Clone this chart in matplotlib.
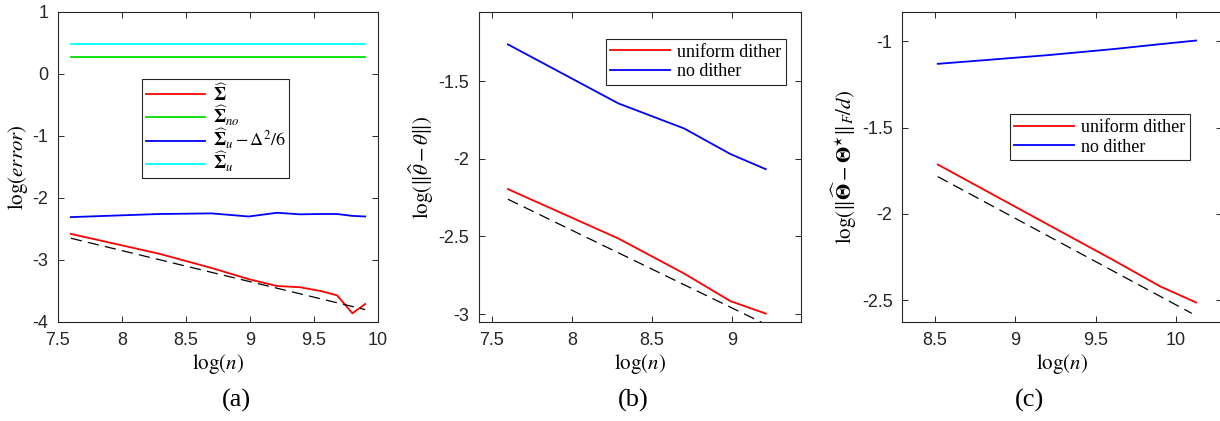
import matplotlib
matplotlib.use("Agg")
import matplotlib.pyplot as plt
import numpy as np
from matplotlib.ticker import FormatStrFormatter

plt.rcParams['font.family'] = ['Liberation Sans', 'DejaVu Sans']
plt.rcParams['mathtext.fontset'] = 'stix'
plt.rcParams['axes.unicode_minus'] = False

# panel (a): covariance error
x_a = [7.60, 8.29, 8.70, 8.99, 9.21, 9.39, 9.55, 9.68, 9.80, 9.90]
sigma_hat = [-2.58, -2.90, -3.13, -3.31, -3.42, -3.44, -3.50, -3.57, -3.86, -3.71]
sigma_no = [0.265] * 10
sigma_u_corr = [-2.31, -2.26, -2.25, -2.30, -2.24, -2.265, -2.26, -2.26, -2.29, -2.30]
sigma_u = [0.475] * 10
ref_a = [-2.65, -3.80]
ref_a_x = [7.60, 9.90]

# panel (b): vector estimation error
x_b = [7.60, 8.29, 8.70, 8.99, 9.21]
theta_dither = [-2.195, -2.513, -2.738, -2.916, -2.996]
theta_nodither = [-1.264, -1.644, -1.805, -1.970, -2.067]
ref_b_x = [7.60, 9.21]
ref_b = [-2.26, -3.065]

# panel (c): matrix estimation error
x_c = [8.517, 9.21, 9.616, 9.903, 10.127]
Theta_dither = [-1.714, -2.065, -2.27, -2.42, -2.513]
Theta_nodither = [-1.131, -1.08, -1.045, -1.017, -0.996]
ref_c_x = [8.517, 10.10]
ref_c = [-1.784, -2.576]

fig = plt.figure(figsize=(12.2, 4.21), dpi=100)
W, H = 1220.0, 421.0


def make_ax(left, width):
    ax = fig.add_axes([left / W, 1 - 322 / H, width / W, 310.3 / H])
    ax.tick_params(direction='in', top=True, right=True, length=4, width=0.7,
                   labelsize=13, colors='#262626', pad=7)
    for s in ax.spines.values():
        s.set_linewidth(0.8)
        s.set_color('#262626')
    ax.xaxis.set_major_formatter(FormatStrFormatter('%g'))
    ax.yaxis.set_major_formatter(FormatStrFormatter('%g'))
    return ax


lw = 1.3
dash = dict(color='black', lw=0.9, dashes=(9, 5))
leg_kw = dict(prop={'family': 'Liberation Serif', 'size': 13}, fancybox=False,
              edgecolor='#262626', framealpha=1, handlelength=3.3,
              handletextpad=0.4, borderaxespad=0)

# (a)
ax = make_ax(58, 320)
ax.plot(x_a, sigma_hat, color='red', lw=lw, label=r'$\widehat{\mathbf{\Sigma}}$')
ax.plot(x_a, sigma_no, color='#00e000', lw=lw, label=r'$\widehat{\mathbf{\Sigma}}_{no}$')
ax.plot(x_a, sigma_u_corr, color='blue', lw=lw, label=r'$\widehat{\mathbf{\Sigma}}_u-\Delta^2/6$')
ax.plot(x_a, sigma_u, color='cyan', lw=lw, label=r'$\widehat{\mathbf{\Sigma}}_u$')
ax.plot(ref_a_x, ref_a, **dash)
ax.set_xlim(7.5, 10)
ax.set_ylim(-4, 1)
ax.set_xticks([7.5, 8, 8.5, 9, 9.5, 10])
ax.set_yticks([1, 0, -1, -2, -3, -4])
ax.set_xlabel(r'$\log(n)$', fontsize=15, labelpad=2)
ax.set_ylabel(r'$\log(error)$', fontsize=15, labelpad=2)
lg = ax.legend(loc='upper left', bbox_to_anchor=(0.263, 0.782), labelspacing=-0.05,
               borderpad=0.2, **leg_kw)
lg.get_frame().set_linewidth(0.8)

# (b)
ax = make_ax(479, 322)
ax.plot(x_b, theta_dither, color='red', lw=lw, label='uniform dither')
ax.plot(x_b, theta_nodither, color='blue', lw=lw, label='no dither')
ax.plot(ref_b_x, ref_b, **dash)
ax.set_xlim(7.42, 9.43)
ax.set_ylim(-3.05, -1.054)
ax.set_xticks([7.5, 8, 8.5, 9])
ax.set_yticks([-1.5, -2, -2.5, -3])
ax.set_xlabel(r'$\log(n)$', fontsize=15, labelpad=2)
ax.set_ylabel(r'$\log(\|\widehat{\theta}-\theta\|)$', fontsize=15, labelpad=2)
lg = ax.legend(loc='upper left', bbox_to_anchor=(0.394, 0.912), labelspacing=0.15,
               borderpad=0.25, **leg_kw)
lg.get_frame().set_linewidth(0.8)

# (c)
ax = make_ax(902.3, 320)
ax.plot(x_c, Theta_dither, color='red', lw=lw, label='uniform dither')
ax.plot(x_c, Theta_nodither, color='blue', lw=lw, label='no dither')
ax.plot(ref_c_x, ref_c, **dash)
ax.set_xlim(8.296, 10.29)
ax.set_ylim(-2.626, -0.829)
ax.set_xticks([8.5, 9, 9.5, 10])
ax.set_yticks([-1, -1.5, -2, -2.5])
ax.set_xlabel(r'$\log(n)$', fontsize=15, labelpad=2)
ax.set_ylabel(r'$\log(\|\widehat{\mathbf{\Theta}}-\mathbf{\Theta}^{\star}\|_F/d)$', fontsize=15, labelpad=2)
lg = ax.legend(loc='upper left', bbox_to_anchor=(0.336, 0.669), labelspacing=0.15,
               borderpad=0.25, **leg_kw)
lg.get_frame().set_linewidth(0.8)

for cx, txt in [(236.7, '(a)'), (633.3, '(b)'), (1029.4, '(c)')]:
    fig.text(cx / W, 1 - 400 / H, txt, ha='center', va='center',
             family='Liberation Serif', fontsize=19)

fig.savefig('out.png', dpi=100)
